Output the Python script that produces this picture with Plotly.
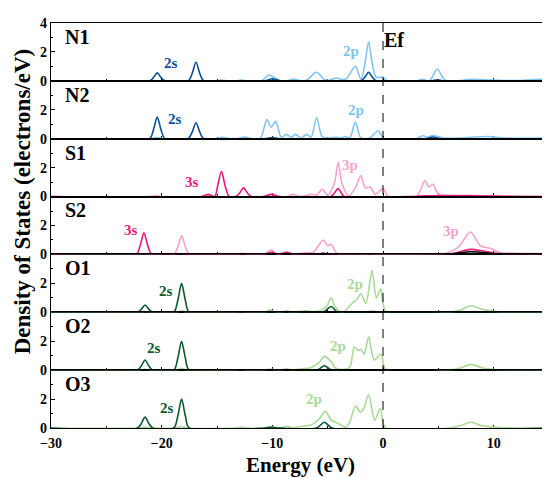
import plotly.graph_objects as go
from plotly.subplots import make_subplots

# ---------------- data (energy eV, DOS electrons/eV) ----------------
N1_S = [(-30,0),(-21.1,0),(-20.75,0.22),(-20.4,0.55),(-20.05,0.22),(-19.7,0),
        (-17.6,0),(-17.25,0.5),(-16.9,1.3),(-16.55,0.5),(-16.2,0),
        (-10.7,0),(-10.0,0.15),(-9.3,0),
        (-2.0,0),(-1.65,0.24),(-1.3,0.6),(-0.95,0.24),(-0.6,0),
        (4.3,0),(4.9,0.08),(5.5,0),(15,0)]
N1_P = [(-30,0),(-15.2,0),(-14.6,0.05),(-14.0,0),(-13.4,0),(-12.8,0.05),(-12.2,0),
        (-11.0,0),(-10.3,0.4),(-9.8,0.22),(-9.2,0),(-8.7,0),(-8.1,0.12),(-7.5,0.02),
        (-6.9,0.05),(-6.0,0.6),(-5.3,0.1),(-4.8,0.05),(-4.2,0.2),(-3.7,0.1),(-3.3,0.15),
        (-2.5,1.0),(-2.0,0.1),(-1.65,1.1),(-1.3,2.7),(-0.95,1.1),(-0.6,0.25),(0,0.25),(0.4,0),
        (3.0,0),(3.6,0.1),(4.2,0),(4.9,0.8),(5.6,0.05),(6.5,0),(8,0.1),(10,0.05),(12,0.02),
        (14,0.1),(15,0.05)]
N2_S = [(-30,0),(-21.1,0),(-20.75,0.6),(-20.4,1.5),(-20.05,0.6),(-19.7,0),
        (-17.6,0),(-17.25,0.45),(-16.9,1.1),(-16.55,0.45),(-16.2,0),
        (-10.7,0),(-10.0,0.08),(-9.3,0),(3.8,0),(4.5,0.12),(5.2,0),(15,0)]
N2_P = [(-30,0),(-21,0),(-20.4,0.08),(-19.8,0),(-15.2,0),(-14.5,0.1),(-13.8,0),(-13.2,0),
        (-12.5,0.12),(-11.8,0),(-11.1,0),(-10.5,1.3),(-10.1,0.8),(-9.7,1.2),(-9.2,0.1),
        (-8.7,0.3),(-8.3,0.1),(-7.9,0.3),(-7.4,0.05),(-6.9,0.3),(-6.5,0.1),(-6.0,1.45),
        (-5.5,0.15),(-5.0,0.05),(-4.2,0.1),(-3.8,0.05),(-3.4,0.15),(-3.0,0.05),(-2.5,1.15),
        (-2.0,0.05),(-1.2,0.05),(-0.45,0.55),(0.1,0),(3.0,0),(3.6,0.2),(4.0,0.1),(4.5,0.22),
        (5.5,0.05),(7,0.05),(9.5,0.15),(11,0.05),(15,0.05)]
S1_S = [(-30,0),(-16.4,0),(-15.8,0.15),(-15.2,0),(-14.95,0.7),(-14.6,1.75),(-14.25,0.7),
        (-13.9,0),(-13.3,0),(-12.95,0.25),(-12.6,0.6),(-12.25,0.25),(-11.9,0),(-10.8,0),
        (-10.1,0.15),(-9.4,0),(-4.7,0),(-4.05,0.55),(-3.5,0),(2,0),(4,0.05),(8,0.05),(15,0)]
S1_P = [(-30,0),(-21.1,0),(-20.5,0.05),(-19.9,0),(-16.4,0),(-15.8,0.05),(-15.2,0),
        (-10.8,0),(-10.1,0.15),(-9.4,0),(-8.7,0),(-8.1,0.15),(-7.5,0),(-6.5,0.15),(-6.0,0.1),
        (-5.5,0.5),(-5.0,0.1),(-4.4,0.9),(-4.05,2.35),(-3.7,0.9),(-3.1,0.05),(-2.5,0.6),
        (-2.0,1.45),(-1.6,0.6),(-1.15,0.65),(-0.7,0.15),(0,0.55),(0.5,0),
        (3.0,0),(3.8,1.1),(4.15,0.65),(4.5,0.85),(5.0,0.2),(6,0.1),(8,0.08),(10,0.05),
        (11,0),(15,0)]
S2_S = [(-30,0),(-22.3,0),(-21.95,0.6),(-21.6,1.5),(-21.25,0.6),(-20.9,0),(-18.8,0),
        (-18.2,0.05),(-17.6,0),(-13.3,0),(-12.7,0.05),(-12.1,0),(-10.7,0),(-10.1,0.15),
        (-9.5,0),(-9.3,0),(-8.7,0.15),(-8.1,0),(-6,0),(-5.4,0.1),(-4.8,0),(5.5,0),(6.5,0.1),
        (7.9,0.35),(9.0,0.25),(10.0,0.1),(11,0.03),(15,0)]
S2_P = [(-30,0),(-22.1,0),(-21.6,0.05),(-21.1,0),(-18.9,0),(-18.55,0.5),(-18.2,1.3),
        (-17.85,0.5),(-17.5,0),(-15.6,0),(-15,0.03),(-14.4,0),(-13.3,0),(-12.7,0.08),
        (-12.1,0),(-10.8,0),(-10.1,0.3),(-9.5,0),(-9.3,0.05),(-8.7,0.15),(-8.1,0.03),
        (-6.9,0.12),(-6.3,0.15),(-5.4,1.0),(-5.0,0.6),(-4.7,0.7),(-4.2,0.1),(-3.6,0),
        (-1.6,0),(-1.1,0.06),(-0.6,0),(3,0),(5.5,0.05),(6.8,0.5),(7.9,1.55),(8.8,0.6),
        (9.8,0.4),(10.5,0.15),(12,0.08),(15,0.05)]
S2_D = [(-30,0),(5.5,0),(6.5,0.06),(7.9,0.18),(9.5,0.1),(10.5,0),(15,0)]
O1_S = [(-30,0),(-22.2,0),(-21.85,0.2),(-21.5,0.5),(-21.15,0.2),(-20.8,0),(-18.9,0),
        (-18.55,0.8),(-18.2,2.0),(-17.85,0.8),(-17.5,0),(-10.8,0),(-10.2,0.05),(-9.6,0),
        (-5.4,0),(-4.7,0.4),(-4.1,0),(-2,0),(-1.0,0.05),(0,0),(15,0)]
O1_P = [(-30,0),(-22.0,0),(-21.5,0.05),(-21.0,0),(-18.7,0),(-18.2,0.1),(-17.7,0),
        (-13.4,0),(-12.8,0.04),(-12.2,0),(-10.8,0),(-10.2,0.15),(-9.6,0),(-9.3,0),
        (-8.7,0.1),(-8.2,0.02),(-6.9,0.1),(-6.3,0.05),(-5.6,0.15),(-5.05,0.45),(-4.7,1.0),
        (-4.35,0.4),(-3.9,0.05),(-3.5,0.05),(-3.0,0.45),(-2.7,0.7),(-2.35,0.9),(-2.0,1.3),
        (-1.55,0.6),(-1.0,2.9),(-0.6,1.0),(-0.2,1.6),(0.3,0),(6,0),(7.0,0.15),(7.9,0.45),
        (9.0,0.2),(10.5,0.03),(15,0)]
O2_S = [(-30,0),(-22.2,0),(-21.85,0.28),(-21.5,0.7),(-21.15,0.28),(-20.8,0),(-18.9,0),
        (-18.55,0.8),(-18.2,2.0),(-17.85,0.8),(-17.5,0),(-6.0,0),(-5.3,0.3),(-4.6,0),(15,0)]
O2_P = [(-30,0),(-22.0,0),(-21.5,0.08),(-21.0,0),(-18.7,0),(-18.2,0.12),(-17.7,0),
        (-13.4,0),(-12.8,0.04),(-12.2,0),(-10.8,0),(-10.2,0.08),(-9.6,0),(-9.3,0),
        (-8.7,0.1),(-8.2,0.02),(-7.4,0.1),(-6.6,0.15),(-5.8,0.5),(-5.3,0.95),(-4.7,0.6),
        (-4.3,0.15),(-3.6,0.05),(-3.0,0.2),(-2.6,1.6),(-2.25,1.35),(-2.0,1.45),(-1.7,1.1),
        (-1.3,2.3),(-0.8,0.7),(-0.2,1.1),(0.3,0),(6,0),(7.0,0.15),(7.9,0.4),(9.0,0.15),
        (10.5,0.03),(15,0)]
O3_S = [(-30,0),(-22.2,0),(-21.85,0.3),(-21.5,0.75),(-21.15,0.3),(-20.8,0),(-18.9,0),
        (-18.55,0.8),(-18.2,2.0),(-17.85,0.8),(-17.5,0),(-10.7,0),(-10.1,0.05),(-9.5,0),
        (-6.0,0),(-5.3,0.4),(-4.6,0),(15,0)]
O3_P = [(-30,0),(-22.0,0),(-21.5,0.06),(-21.0,0),(-18.7,0),(-18.2,0.1),(-17.7,0),
        (-13.4,0),(-12.8,0.05),(-12.2,0),(-10.7,0),(-10.1,0.1),(-9.5,0),(-9.3,0),
        (-8.7,0.12),(-8.2,0.02),(-7.3,0.12),(-6.5,0.2),(-5.8,0.6),(-5.2,1.15),(-4.7,0.55),
        (-4.0,0.3),(-3.4,0.05),(-3.0,0.4),(-2.5,1.5),(-2.05,1.1),(-1.75,1.33),(-1.3,2.3),
        (-0.75,0.53),(-0.25,1.35),(0.25,0),(6,0),(7.0,0.15),(7.9,0.4),(9.0,0.15),
        (10.5,0.03),(15,0)]

PANELS = ["N1", "N2", "S1", "S2", "O1", "O2", "O3"]
S_CURVES = [N1_S, N2_S, S1_S, S2_S, O1_S, O2_S, O3_S]
P_CURVES = [N1_P, N2_P, S1_P, S2_P, O1_P, O2_P, O3_P]
D_CURVES = [None, None, None, S2_D, None, None, None]

S_LABELS = ["2s", "2s", "3s", "3s", "2s", "2s", "2s"]
P_LABELS = ["2p", "2p", "3p", "3p", "2p", "2p", "2p"]
S_LABEL_POS = [(-19.2, 1.25), (-18.8, 1.38), (-17.3, 1.03), (-22.8, 1.72),
               (-19.6, 1.5), (-20.7, 1.5), (-19.5, 1.4)]
P_LABEL_POS = [(-2.9, 2.07), (-2.4, 2.0), (-3.0, 2.2), (6.1, 1.6),
               (-2.5, 1.93), (-4.1, 1.65), (-6.2, 2.0)]

S_COLORS = ["#0b4f96", "#0b4f96", "#e8197d", "#e8197d", "#0b5a2e", "#0b5a2e", "#0b5a2e"]
P_COLORS = ["#80c4f0", "#80c4f0", "#f7a3cb", "#f7a3cb", "#a9da97", "#a9da97", "#a9da97"]

X_TICKS = [-30, -20, -10, 0, 10]
X_TICK_TEXT = ["−30", "−20", "−10", "0", "10"]

FONT = "Liberation Serif, Times New Roman, DejaVu Serif, serif"


def b(t):
    return "<b>" + t + "</b>"


fig = make_subplots(rows=7, cols=1, shared_xaxes=True, vertical_spacing=0)

for i in range(7):
    r = i + 1
    curves = [(P_CURVES[i], P_COLORS[i]), (S_CURVES[i], S_COLORS[i])]
    if D_CURVES[i] is not None:
        curves.append((D_CURVES[i], "black"))
    for pts, col in curves:
        fig.add_trace(go.Scatter(x=[p[0] for p in pts], y=[p[1] for p in pts],
                                 mode="lines", line=dict(color=col, width=1.6,
                                                         shape="spline", smoothing=0.8),
                                 showlegend=False, hoverinfo="skip"), row=r, col=1)
    yt = [0, 2, 4] if i == 0 else [0, 2]
    fig.update_yaxes(range=[0, 4], tickvals=yt, ticktext=[b(str(v)) for v in yt],
                     ticks="inside", ticklen=4, tickwidth=1, tickcolor="black",
                     minor=dict(tickvals=[1, 3], ticks="inside", ticklen=2, tickcolor="black"),
                     showline=True, linecolor="black", linewidth=1.2, mirror=True,
                     showgrid=False, zeroline=False, layer="below traces",
                     tickfont=dict(family=FONT, size=14, color="black"),
                     row=r, col=1)
    fig.update_xaxes(range=[-30, 15], tickvals=X_TICKS, ticktext=[b(t) for t in X_TICK_TEXT],
                     ticks="inside", ticklen=3,
                     tickcolor="black", minor=dict(dtick=5, ticks="inside", ticklen=2,
                                                   tickcolor="black"),
                     showline=True, linecolor="black", linewidth=1.2, mirror=True,
                     showgrid=False, zeroline=False, showticklabels=(i == 6),
                     layer="below traces", ticklabelstandoff=2,
                     tickfont=dict(family=FONT, size=14, color="black"),
                     row=r, col=1)

annotations = []
for i in range(7):
    yref = "y domain" if i == 0 else f"y{i+1} domain"
    yr = "y" if i == 0 else f"y{i+1}"
    xr = "x" if i == 0 else f"x{i+1}"
    annotations.append(dict(text=b(PANELS[i]), xref="paper", yref=yref, x=0.024, y=0.76,
                            xanchor="left", yanchor="middle", showarrow=False,
                            font=dict(family=FONT, size=20, color="black")))
    annotations.append(dict(text=b(S_LABELS[i]), xref=xr, yref=yr, x=S_LABEL_POS[i][0],
                            y=S_LABEL_POS[i][1], showarrow=False,
                            font=dict(family=FONT, size=15, color=S_COLORS[i])))
    annotations.append(dict(text=b(P_LABELS[i]), xref=xr, yref=yr, x=P_LABEL_POS[i][0],
                            y=P_LABEL_POS[i][1], showarrow=False,
                            font=dict(family=FONT, size=15, color=P_COLORS[i])))

annotations.append(dict(text=b("Ef"), xref="x", yref="y domain", x=-0.1, y=0.71,
                        xanchor="left", yanchor="middle", showarrow=False,
                        font=dict(family=FONT, size=20, color="black")))
annotations.append(dict(text=b("Density of States (electrons/eV)"), xref="paper", yref="paper",
                        x=-0.058, y=0.56, textangle=-90, showarrow=False,
                        xanchor="center", yanchor="middle",
                        font=dict(family=FONT, size=23, color="black")))
annotations.append(dict(text=b("Energy (eV)"), xref="paper", yref="paper",
                        x=0.5, y=-0.092, showarrow=False, xanchor="center", yanchor="middle",
                        font=dict(family=FONT, size=21, color="black")))

fig.add_shape(type="line", xref="x", yref="paper", x0=0, x1=0, y0=0, y1=1,
              line=dict(color="black", width=1, dash="dash"))

fig.update_layout(width=550, height=478, margin=dict(l=43, r=8, t=13, b=58),
                  paper_bgcolor="white", plot_bgcolor="white",
                  annotations=annotations, showlegend=False)

fig.write_html("out.html")
